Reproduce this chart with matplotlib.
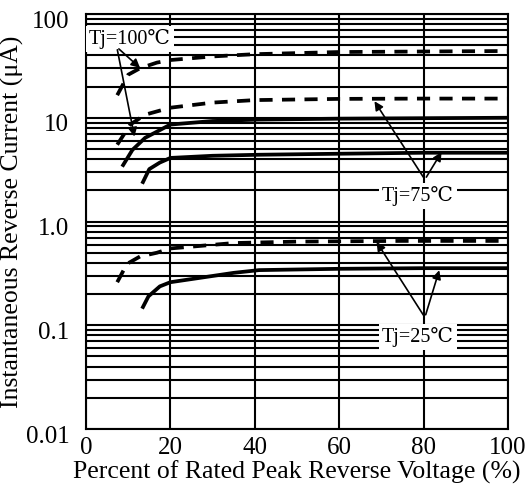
import matplotlib.pyplot as plt
from matplotlib.ticker import FixedLocator, NullFormatter, LogLocator
from matplotlib.transforms import ScaledTranslation

plt.rcParams["font.family"] = ["Liberation Serif", "DejaVu Serif"]

# curves (percent of rated voltage, current in uA)
x_100_dash = [7.4, 10, 12.8, 16.8, 20, 30, 40, 60, 80, 100]
y_100_dash = [16.5, 26, 30, 34, 36, 39, 41, 43, 43.5, 44]

x_75_dash = [7.4, 10.5, 14, 20, 30, 40, 60, 80, 100]
y_75_dash = [5.5, 8.6, 10.7, 12.5, 14, 14.8, 15.2, 15.3, 15.3]

x_100_solid = [8.8, 11, 14, 20, 30, 41, 60, 80, 100]
y_100_solid = [3.5, 4.9, 6.4, 8.6, 9.3, 9.6, 9.8, 9.9, 10]

x_75_solid = [13.5, 15, 17.5, 20, 30, 41, 60, 80, 100]
y_75_solid = [2.4, 3.2, 3.7, 4.1, 4.3, 4.4, 4.5, 4.6, 4.6]

x_25_dash = [7.4, 9.7, 12.8, 16.8, 20, 35, 50, 75, 100]
y_25_dash = [0.26, 0.39, 0.46, 0.50, 0.55, 0.62, 0.64, 0.65, 0.65]

x_25_solid = [13.5, 14.8, 17.5, 20, 35, 41, 60, 80, 100]
y_25_solid = [0.15, 0.19, 0.237, 0.26, 0.32, 0.34, 0.35, 0.355, 0.355]

x_ticks = [0, 20, 40, 60, 80, 100]
y_ticks = [0.01, 0.1, 1.0, 10, 100]
y_tick_labels = ["0.01", "0.1", "1.0", "10", "100"]

fig = plt.figure(figsize=(5.26, 4.93), dpi=100)
ax = fig.add_axes([0.1635, 0.1298, 0.8023, 0.8418])
ax.set_yscale("log")
ax.set_xlim(0, 100)
ax.set_ylim(0.01, 100)

ax.xaxis.set_major_locator(FixedLocator(x_ticks))
ax.yaxis.set_major_locator(FixedLocator(y_ticks))
ax.set_yticklabels(y_tick_labels)
ax.yaxis.set_minor_locator(LogLocator(base=10, subs=range(2, 10)))
ax.yaxis.set_minor_formatter(NullFormatter())
ax.tick_params(which="both", length=0, labelsize=18)
ax.tick_params(axis="x", pad=6)
ax.tick_params(axis="y", pad=12)
# y labels in the reference sit a little below their grid lines
for lab in ax.get_yticklabels():
    lab.set_transform(lab.get_transform() + ScaledTranslation(0, -5 / 100, fig.dpi_scale_trans))

ax.grid(True, which="major", axis="x", color="black", lw=1.5)
ax.grid(True, which="both", axis="y", color="black", lw=1.5)
for s in ax.spines.values():
    s.set_linewidth(1.5)

dash = (0, (3.5, 2.5))
lw = 2.7
ax.plot(x_100_dash, y_100_dash, color="black", lw=lw, ls=dash)
ax.plot(x_75_dash, y_75_dash, color="black", lw=lw, ls=dash)
ax.plot(x_25_dash, y_25_dash, color="black", lw=lw, ls=dash)
ax.plot(x_100_solid, y_100_solid, color="black", lw=lw)
ax.plot(x_75_solid, y_75_solid, color="black", lw=lw)
ax.plot(x_25_solid, y_25_solid, color="black", lw=lw)

ax.set_xlabel("Percent of Rated Peak Reverse Voltage (%)", fontsize=18.5, labelpad=1)
ax.set_ylabel("Instantaneous Reverse Current (\u03bcA)", fontsize=18.5, labelpad=1)

arrow = dict(arrowstyle="-|>", color="black", lw=1.2, mutation_scale=13)
box = dict(boxstyle="square,pad=0.15", fc="white", ec="none")

ax.text(10.4, 58, "Tj=100\u2103", ha="center", va="center", fontsize=14.5, bbox=box, zorder=5)
ax.annotate("", xy=(13.3, 29), xytext=(7.3, 48), arrowprops=arrow, zorder=6)
ax.annotate("", xy=(11.6, 6.2), xytext=(7.3, 48), arrowprops=arrow, zorder=6)

ax.text(78.7, 1.78, "Tj=75\u2103", ha="center", va="center", fontsize=14.5, bbox=box, zorder=5)
ax.annotate("", xy=(68, 15.2), xytext=(80.3, 2.54), arrowprops=arrow, zorder=6)
ax.annotate("", xy=(84.6, 4.92), xytext=(80.3, 2.54), arrowprops=arrow, zorder=6)

ax.text(78.7, 0.0767, "Tj=25\u2103", ha="center", va="center", fontsize=14.5, bbox=box, zorder=5)
ax.annotate("", xy=(68.5, 0.67), xytext=(80.3, 0.119), arrowprops=arrow, zorder=6)
ax.annotate("", xy=(83.9, 0.36), xytext=(80.3, 0.119), arrowprops=arrow, zorder=6)

fig.savefig("out.png", dpi=100)
